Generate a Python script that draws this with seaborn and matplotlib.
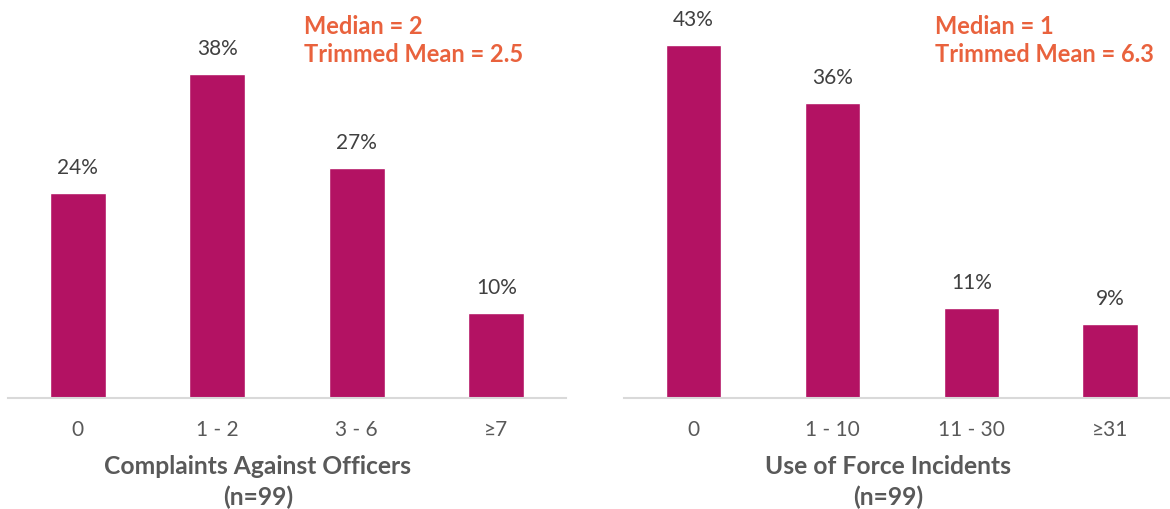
import matplotlib
matplotlib.use("Agg")
import matplotlib.pyplot as plt
import pandas as pd
import seaborn as sns

# data
complaint_bins = ["0", "1 - 2", "3 - 6", "≥7"]
complaint_pct = [24, 38, 27, 10]
force_bins = ["0", "1 - 10", "11 - 30", "≥31"]
force_pct = [43, 36, 11, 9]

complaint_stats = ["Median = 2", "Trimmed Mean = 2.5"]
force_stats = ["Median = 1", "Trimmed Mean = 6.3"]
complaint_title = ["Complaints Against Officers", "(n=99)"]
force_title = ["Use of Force Incidents", "(n=99)"]

bar_color = "#B31263"
stat_color = "#E9623D"
label_gray = "#595959"
value_gray = "#404040"

sns.set_style("white")
plt.rcParams["font.family"] = ["Lato", "DejaVu Sans"]

W, H = 1170, 510
fig = plt.figure(figsize=(W / 100, H / 100), dpi=100)


def draw_panel(rect, bins, pct, ytop, stats, title, stat_x, title_x):
    ax = fig.add_axes([rect[0] / W, rect[1] / H, rect[2] / W, rect[3] / H])
    df = pd.DataFrame({"bin": bins, "pct": pct})
    sns.barplot(data=df, x="bin", y="pct", order=bins, color=bar_color,
                saturation=1, width=0.4, ax=ax)
    ax.set_ylim(0, ytop)
    ax.set_xlim(-0.5, rect[4])
    for s in ["left", "right", "top"]:
        ax.spines[s].set_visible(False)
    ax.spines["bottom"].set_color("#D9D9D9")
    ax.spines["bottom"].set_linewidth(1.5)
    ax.set_yticks([])
    ax.set_xlabel("")
    ax.set_ylabel("")
    ax.tick_params(axis="x", length=0, pad=15, labelsize=15, labelcolor=label_gray)

    for p, v in zip(ax.patches, pct):
        ax.annotate(f"{v}%", xy=(p.get_x() + p.get_width() / 2, p.get_height()),
                    xytext=(0, 26), textcoords="offset pixels",
                    ha="center", va="center", fontsize=15, color=value_gray)

    fig.text(stat_x / W, 1 - 26 / H, stats[0], ha="left", va="center",
             fontsize=17, fontweight="bold", color=stat_color)
    fig.text(stat_x / W, 1 - 54 / H, stats[1], ha="left", va="center",
             fontsize=17, fontweight="bold", color=stat_color)
    fig.text(title_x / W, 1 - 467 / H, title[0], ha="center", va="center",
             fontsize=17.7, fontweight="bold", color=label_gray)
    fig.text(title_x / W, 1 - 497 / H, title[1], ha="center", va="center",
             fontsize=17.7, fontweight="bold", color=label_gray)
    return ax


# rect = left, bottom, width, height (px), xlim right
draw_panel((8, 111, 558, 399, 3.5), complaint_bins, complaint_pct, 46.8,
           complaint_stats, complaint_title, 304, 258)
draw_panel((624, 111, 546, 399, 3.43), force_bins, force_pct, 48.65,
           force_stats, force_title, 935, 888)

fig.savefig("out.png", dpi=100)
